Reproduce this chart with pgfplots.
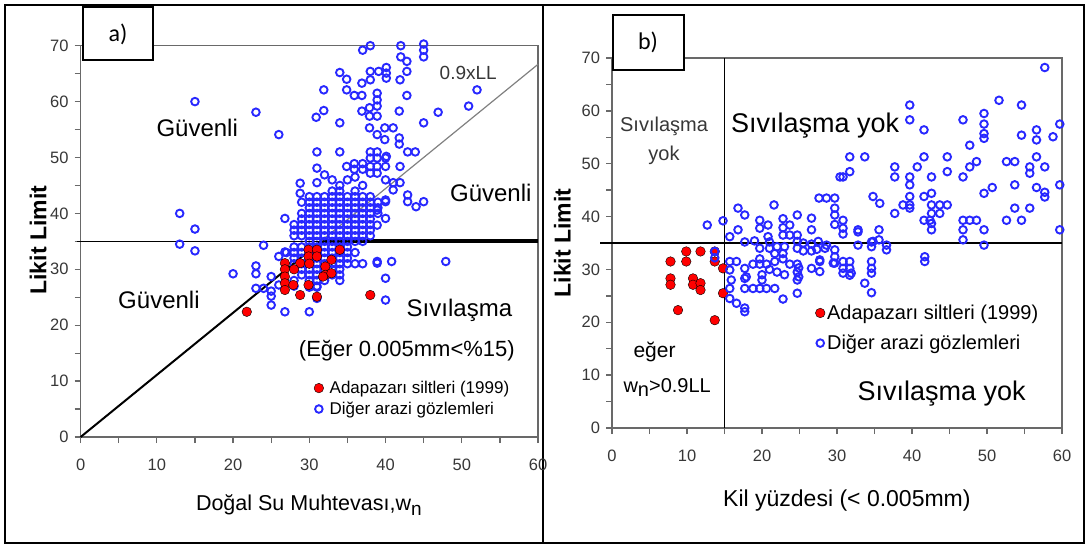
\documentclass[border=0pt]{standalone}
\usepackage{pgfplots}
\pgfplotsset{compat=1.18}
\usepackage{fontspec}
\setmainfont{Liberation Sans}
\newfontfamily\calib{Carlito}
\definecolor{tickgray}{RGB}{55,55,55}
\definecolor{framegray}{RGB}{105,105,105}
\definecolor{ptblue}{RGB}{40,40,255}
\definecolor{ptred}{RGB}{255,0,0}
\newcommand{\fs}[1]{\fontsize{#1}{#1}\selectfont}
\pgfplotsset{
  mystyle/.style={
    scale only axis, xmin=0,xmax=60,ymin=0,ymax=70,
    xtick={0,10,...,60}, ytick={0,10,...,70},
    minor xtick={5,15,...,55}, minor ytick={5,15,...,65},
    xtick pos=bottom, ytick pos=left, tick align=outside,
    major tick length=6pt, minor tick length=6pt,
    major tick style={draw=framegray, line width=1.3pt},
    minor tick style={draw=framegray, line width=1.3pt},
    axis line style={draw=framegray, line width=1.3pt},
    /pgf/number format/assume math mode=true,
    ticklabel style={font=\fs{16.5}, text=tickgray},
    xticklabel style={yshift=-12pt},
    yticklabel style={xshift=-2.5pt},
    clip=false,
    legend cell align=left,
    legend image code/.code={\draw[##1] plot coordinates {(0pt,0pt)};},
  },
  bluept/.style={only marks, mark=o, mark size=3.8pt, mark options={draw=ptblue, line width=1.9pt}},
  redpt/.style={only marks, mark=*, mark size=4.8pt, mark options={fill=ptred, draw=none}},
}
\begin{document}
\begin{tikzpicture}[x=1pt,y=1pt]
\useasboundingbox (0,0) rectangle (1089,547);
\draw[line width=1.8pt] (5,4) rectangle (1084,542);
\draw[line width=1.8pt] (543,4) -- (543,542);
% ---------------- left panel
\begin{axis}[mystyle, at={(80.6pt,110pt)}, anchor=south west, width=457.4pt, height=391.3pt,
  xlabel={Doğal Su Muhtevası,w\raisebox{-0.45ex}{\fs{19}n}},
  ylabel={\bfseries Likit Limit},
  xlabel style={font=\fs{21.5}, at={(axis description cs:0.499,-0.174)}, anchor=center},
  ylabel style={font=\fs{23}, at={(axis description cs:-0.093,0.503)}, anchor=center},
  legend style={at={(axis cs:30.6,10.2)}, anchor=north west, draw=none, fill=none, font=\fs{17}, row sep=5pt, inner sep=0pt, nodes={inner sep=1pt}, column sep=5pt},
]
\addlegendimage{redpt}
\addlegendentry{Adapazarı siltleri (1999)}
\addlegendimage{bluept}
\addlegendentry{Diğer arazi gözlemleri}
\addplot[black, line width=1.6pt, forget plot] coordinates {(-0.5,35) (60,35)};
\addplot[black, line width=4pt, forget plot] coordinates {(31.5,35) (60,35)};
\addplot[black, line width=2pt, forget plot] coordinates {(0,0) (31.5,35)};
\addplot[gray, line width=1.2pt, forget plot] coordinates {(31.5,35) (60,66.67)};
\addplot[bluept, forget plot] table {
38 70
37 69.2
42 70
42 68
45 70.3
45 69.2
45 68
42.8 67.2
40.1 66.1
40.1 65.1
40.1 64.2
39.1 65.4
38 65.4
42.8 65.4
34 65.2
34.9 64
36.9 63.3
38 63.9
41.9 63.9
31.9 62.1
34.9 62.1
35.9 61.1
36.9 61.1
38.9 61.5
38.9 60.3
38.9 59.2
42.8 61.1
52 62.1
50.9 59.2
46.9 58.1
31.9 58.4
30.9 57.2
36.9 58.3
37.9 58.9
37.9 57.4
38.9 57.4
41.8 58.3
34 56.2
45 56.2
37.9 55.3
39.9 55.3
41 55.3
38.9 54.1
39.9 53.2
41.8 53.5
41.8 52.4
26 54.1
15 60
23 58.1
31 51
34 51
38 51
38.9 51
40.1 50.2
42.9 51
43.9 51
38 49.9
38.9 49.9
40 49.9
31 48.1
32 46.9
34.9 48.4
35.9 48.9
37 48.9
35.9 47.9
37 47.9
38 48.4
38.9 48.4
40 48.4
38 47.2
38.9 47.2
40 46
41.9 48.4
41 45.5
41.9 45.5
28.8 45.4
28.8 43.6
40 42.1
42.9 43.3
42.9 42.1
44 41.2
45 42.1
41 44.2
40 42.4
40 39.1
38.9 40.6
38.9 37.9
26.8 39.1
13 40
15 37.2
13 34.5
15 33.3
24 34.3
20 29.2
23 30.6
23 29.2
23 26.6
24 26.6
25 28.7
25 26.1
25 25.2
25 23.6
26 27.2
26.8 22.4
30 22.4
30 26.8
31 24.8
31 26.8
26.8 33.1
26 32.3
38.9 31.4
40.8 31.4
40 28.4
40 24.5
47.9 31.4
38.9 31.1
36 44
37 45
33 44
34 45
35 46
31 45.5
33 46
36 46.5
34 44
30 43
31 43
32 43
33 43
34 43
35 43
36 43
37 43
38 43
29 42
30 42
31 42
32 42
33 42
34 42
35 42
36 42
37 42
38 42
39 42
30 41
31 41
32 41
33 41
34 41
35 41
36 41
37 41
38 41
39 41
29 40
30 40
31 40
32 40
33 40
34 40
35 40
36 40
37 40
38 40
39 40
29 39
30 39
31 39
32 39
33 39
34 39
35 39
36 39
37 39
38 39
28 38
29 38
30 38
31 38
32 38
33 38
34 38
35 38
36 38
37 38
38 38
28 37
29 37
30 37
31 37
32 37
33 37
34 37
35 37
36 37
37 37
38 37
28 36
29 36
30 36
31 36
32 36
33 36
34 36
35 36
36 36
37 36
38 36
30 35
31 35
32 35
33 35
34 35
35 35
36 35
37 35
28 34
29 34
30 34
31 34
32 34
33 34
34 34
35 34
27 33
28 33
29 33
30 33
31 33
32 33
33 33
34 33
35 33
36 33
28 32
29 32
30 32
31 32
32 32
33 32
34 32
35 32
28 31
29 31
30 31
31 31
32 31
33 31
34 31
35 31
36 31
37 31
29 30
30 30
31 30
32 30
33 30
34 30
29 29
30 29
31 29
33 29
34 29
28 28
30 28
31 28
32 28
34 28
28 27
30 27
31 27
};
\addplot[redpt, forget plot] table {
26.8 31.1
26.8 30.0
26.8 28.7
26.8 27.5
26.8 26.3
27.9 27.2
28.8 31.1
29.9 27.2
28.8 25.4
31.0 25.1
21.8 22.4
38.0 25.4
29.9 33.5
31.0 33.5
29.9 32.3
31.0 32.3
34.0 33.5
32.9 31.7
32.1 30.5
32.1 29.0
31.8 28.7
32.9 29.3
30.0 31.0
28.0 30.0
};
\end{axis}
\node[font=\fs{24}, anchor=base west] at (153,410) {Güvenli};
\node[font=\fs{24}, anchor=base west] at (446.6,345) {Güvenli};
\node[font=\fs{24}, anchor=base west] at (114.7,238.7) {Güvenli};
\node[font=\fs{19}, text=tickgray, anchor=base west] at (436.2,467.7) {0.9xLL};
\node[font=\fs{24}, anchor=base west] at (403.2,230.3) {Sıvılaşma};
\node[font=\fs{22}, anchor=base west] at (295.4,190.3) {(Eğer 0.005mm<\%15)};
\draw[fill=white, line width=1.3pt] (83,487) rectangle (153,540);
\node[font=\calib\fs{24}] at (118,513) {a)};
% ---------------- right panel
\begin{axis}[mystyle, at={(612pt,119pt)}, anchor=south west, width=450pt, height=370pt,
  xlabel={Kil yüzdesi (< 0.005mm)},
  ylabel={\bfseries Likit Limit},
  xlabel style={font=\fs{23}, at={(axis description cs:0.522,-0.195)}, anchor=center},
  ylabel style={font=\fs{23}, at={(axis description cs:-0.11,0.5)}, anchor=center},
  legend style={at={(axis cs:27.1,23.5)}, anchor=north west, draw=none, fill=none, font=\fs{20}, row sep=12pt, inner sep=0pt, nodes={inner sep=1pt}, column sep=1pt},
]
\addplot[black, line width=1.5pt, forget plot] coordinates {(15,0) (15,70)};
\addplot[black, line width=1.6pt, forget plot] coordinates {(-1.6,35) (60,35)};
\addplot[redpt] table {
9.9 33.4
9.9 31.5
11.8 33.4
13.7 33.4
13.7 31.5
7.8 31.5
14.8 30.2
7.8 28.3
7.8 27.1
10.8 28.3
10.8 27.1
11.8 27.4
11.8 26.1
14.8 25.5
8.8 22.3
13.7 20.4
};
\addlegendentry{Adapazarı siltleri (1999)}
\addplot[bluept] table {
13.7 33.4
13.7 32.2
12.7 38.4
14.8 39.2
16.8 41.6
17.7 40.3
21.6 42.2
15.7 36.2
16.8 37.5
17.7 35.2
19.7 39.3
19.7 37.8
20.8 38.4
20.8 36.2
22.8 39.6
22.8 37.9
22.8 36.5
23.7 38.4
23.7 36.5
24.7 40.3
24.7 36.5
24.7 35.3
26.6 39.7
26.6 37.5
27.6 43.5
28.6 43.5
29.7 43.5
29.7 41.6
29.7 40.3
29.7 38.5
30.4 47.5
57.7 68.2
51.6 62
54.6 61.1
39.7 61.1
39.7 58.3
41.6 56.4
46.8 58.3
49.6 59.5
49.6 57.5
49.6 55.7
49.6 54.8
47.7 53.5
54.6 55.4
56.6 56.4
56.6 54.5
58.8 55.1
59.7 57.5
31.7 51.3
33.7 51.3
31.7 48.5
30.8 47.5
41.6 51.3
44.7 51.3
44.7 48.5
40.7 49.4
37.7 49.4
37.7 47.5
39.7 47.5
39.7 46
42.6 47.5
46.8 47.5
47.7 49.4
48.6 50.4
52.6 50.4
53.7 50.4
55.7 49.4
55.7 48.2
56.6 51.3
57.7 49.4
53.7 46
59.7 46
49.6 44.4
50.7 45.5
56.6 45.5
57.7 44.6
57.7 43.7
53.7 41.6
52.6 39.3
54.6 39.3
55.7 41.6
59.7 37.5
46.8 39.3
46.8 37.5
46.8 35.6
47.7 39.3
48.6 39.3
49.6 37.5
49.6 34.6
34.8 43.8
35.7 42.5
37.7 40.6
38.8 42.2
39.7 43.8
39.7 42.2
39.7 41.6
41.6 43.8
42.6 44.4
42.6 42.2
42.6 40.6
42.6 38.7
42.6 37.5
43.7 42.2
43.7 40.6
44.7 42.2
41.6 39.3
30.8 39.3
30.8 37.8
30.8 36.7
32.8 37.5
35.6 37.5
35.6 35.6
34.8 35.3
32.8 37.1
34.6 35.2
34.6 34.3
36.6 34.6
36.6 33.7
32.8 34.6
29.7 33.7
29.7 32.4
29.7 31.2
30.8 31.5
30.8 30.2
31.7 31.5
31.7 30.2
31.7 28.9
34.6 31.5
34.6 30.2
34.6 29.3
33.7 27.4
34.6 25.6
41.7 32.4
41.7 31.5
42.4 39.3
15.7 31.5
16.6 31.5
15.7 29.9
17.7 30.2
17.7 28.3
15.7 26.4
17.7 26.4
18.8 26.4
19.7 26.4
20.6 26.4
21.7 26.4
15.7 24.5
16.6 23.6
17.7 22.7
17.7 22.0
22.8 24.4
24.7 25.5
19.7 32
19.7 31
20.6 31
21.7 33
22.8 32
22.8 33
21.7 31.5
23.7 31
24.7 31
24.7 29.5
24.7 28
19.7 34
21 34
22 34.3
23 34.3
24.7 34
25.5 33.5
26.6 33.5
27.3 33.8
28.4 34
27.7 31.5
27.7 29.6
29.5 31.2
26.6 30.2
15.9 28
17.9 28.6
24.9 30.3
24.9 28.6
27.7 31.8
30.8 29.3
31.9 29.3
20 29
21 30
22 29.5
23 29
20 28
18.8 31
25.5 35
26.6 34.8
27.5 35.3
28.6 34.6
21 35.2
19 35.4
};
\addlegendentry{Diğer arazi gözlemleri}
\end{axis}
\node[font=\fs{20}, text=tickgray, anchor=base] at (664,415) {Sıvılaşma};
\node[font=\fs{20}, text=tickgray, anchor=base] at (664,386) {yok};
\node[font=\fs{27}, anchor=base west] at (727.5,414) {Sıvılaşma yok};
\node[font=\fs{27}, anchor=base west] at (854,147) {Sıvılaşma yok};
\node[font=\fs{21}, anchor=base west] at (630,190) {eğer};
\node[font=\fs{20}, anchor=base west] at (620,155) {w\raisebox{-0.45ex}{n}>0.9LL};
\draw[fill=white, line width=1.3pt] (613,477) rectangle (684,532);
\node[font=\calib\fs{24}] at (648,505) {b)};
\end{tikzpicture}
\end{document}
